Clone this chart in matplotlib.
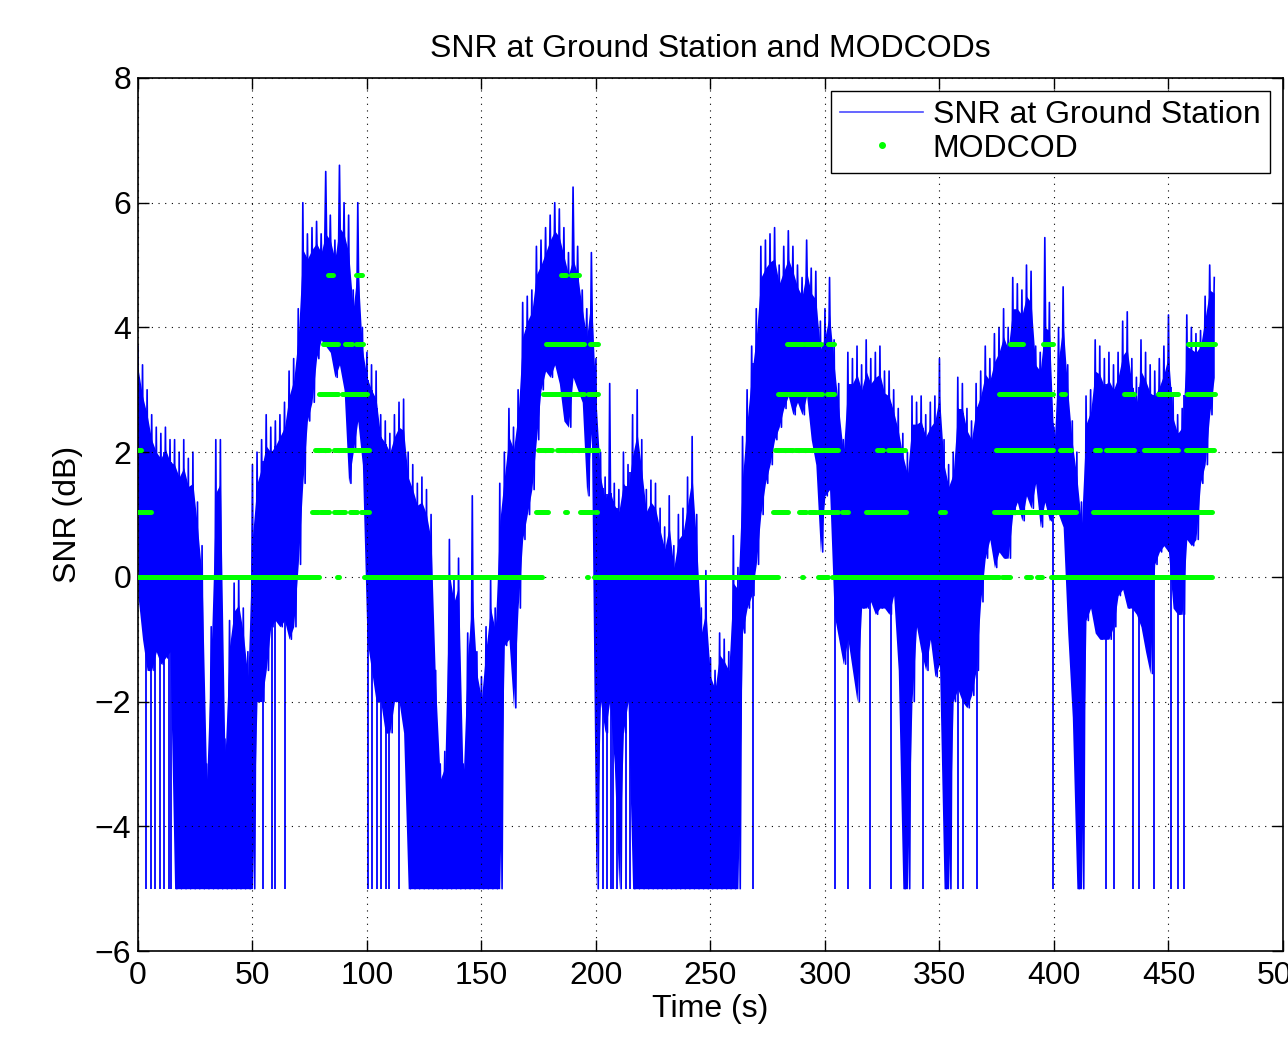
import matplotlib
matplotlib.use('Agg')
import numpy as np
import matplotlib.pyplot as plt
from matplotlib.lines import Line2D

plt.rcParams['font.family'] = ['Liberation Sans', 'DejaVu Sans']

# ---------------- data ----------------
# time bins (s)
t_bins = list(range(0, 472, 2))

# spike peaks of the SNR trace in each bin (dB)
snr_high = [
    3.7, 3.4, 3.0, 2.6, 2.4, 2.3, 2.4, 2.2, 2.2, 2.0,
    2.2, 1.9, 2.0, 1.2, 0.5, -3.0, -0.8, 2.2, 2.2, -2.6,
    -0.7, -0.1, 0.0, -0.5, -1.2, 1.8, 2.0, 2.2, 2.6, 2.4,
    2.5, 2.6, 2.8, 3.3, 3.5, 4.3, 6.0, 5.5, 5.6, 5.7,
    5.5, 6.5, 5.8, 5.4, 6.6, 6.0, 5.8, 4.6, 6.0, 4.0,
    3.6, 3.4, 3.3, 2.6, 2.5, 2.3, 2.6, 2.8, 2.85, 2.0,
    1.8, 1.5, 1.6, 1.4, 1.0, -1.5, -3.0, -2.8, 0.6, 0.0,
    0.3, -3.0, -0.9, 1.3, -1.2, -1.6, -0.8, 0.0, -0.5, 1.5,
    2.0, 2.7, 2.4, 3.0, 4.4, 4.5, 4.6, 5.3, 5.4, 5.6,
    5.8, 6.0, 5.9, 5.6, 5.2, 6.25, 5.3, 4.6, 4.3, 5.2,
    3.5, 2.0, 1.6, 3.1, 1.5, 1.4, 2.0, 1.8, 2.6, 3.0,
    2.2, 1.4, 1.55, 1.5, 1.1, 0.8, 1.3, 0.5, 1.0, 1.1,
    1.6, 2.25, 1.0, -0.5, 0.1, -1.3, -1.5, -0.9, -1.0, -1.2,
    0.66, 0.15, 2.25, 3.0, 3.7, 4.3, 5.3, 5.4, 5.5, 5.6,
    5.0, 5.3, 5.55, 5.3, 5.0, 4.8, 5.4, 4.95, 4.9, 4.1,
    4.3, 4.8, 3.8, 3.1, 2.2, 3.6, 3.5, 3.7, 3.4, 3.8,
    3.5, 3.6, 3.7, 3.3, 3.3, 3.0, 2.7, 2.3, 2.0, 2.9,
    2.8, 2.9, 2.6, 2.8, 2.9, 3.5, 2.2, 1.8, 2.0, 3.2,
    3.1, 2.7, 2.5, 3.1, 3.3, 3.7, 3.5, 3.9, 4.0, 4.3,
    4.0, 4.8, 4.7, 4.6, 5.0, 4.9, 3.7, 3.6, 5.44, 4.4,
    2.4, 4.0, 4.65, 3.4, 2.5, 2.0, 1.2, 2.9, 3.0, 3.8,
    3.7, 3.5, 3.6, 3.4, 3.6, 4.1, 4.25, 3.5, 3.2, 3.8,
    3.6, 3.4, 3.3, 3.5, 3.7, 4.2, 2.9, 2.6, 2.7, 4.2,
    4.0, 3.9, 3.95, 4.5, 5.0, 4.8,
]

# top of the dense (solid-looking) part of the trace in each bin (dB)
snr_core_top = [
    3.35, 2.9, 2.6, 2.2, 2.0, 1.9, 2.05, 1.85, 1.8, 1.6,
    1.75, 1.45, 1.5, 0.8, 0.0, -3.25, -1.15, 1.35, 1.5, -2.9,
    -1.1, -0.55, -0.45, -0.9, -1.6, 0.65, 1.5, 1.75, 2.1, 2.0,
    2.1, 2.25, 2.4, 2.9, 3.15, 3.85, 5.25, 5.1, 5.25, 5.35,
    5.2, 5.5, 5.4, 5.1, 5.6, 5.5, 5.2, 4.3, 5.0, 3.65,
    3.2, 3.0, 2.85, 2.25, 2.15, 2.0, 2.25, 2.4, 2.35, 1.6,
    1.4, 1.15, 1.2, 1.0, 0.6, -1.75, -3.25, -3.05, 0.05, -0.4,
    -0.15, -3.25, -1.25, -0.3, -1.55, -1.95, -1.15, -0.5, -0.85, 0.9,
    1.6, 2.25, 2.05, 2.6, 3.85, 4.1, 4.25, 4.85, 5.0, 5.2,
    5.4, 5.55, 5.45, 5.15, 4.85, 5.1, 4.85, 4.3, 3.85, 4.5,
    2.85, 1.6, 1.25, 1.4, 1.15, 1.05, 1.5, 1.4, 1.95, 2.3,
    1.7, 1.05, 1.2, 1.1, 0.75, 0.45, 0.8, 0.15, 0.6, 0.7,
    1.15, 1.6, 0.5, -0.9, -0.55, -1.6, -1.8, -1.25, -1.35, -1.5,
    -0.1, -0.2, 1.6, 2.5, 3.25, 3.85, 4.8, 4.95, 5.05, 5.1,
    4.7, 4.9, 5.1, 4.9, 4.65, 4.5, 4.9, 4.55, 4.45, 3.65,
    3.85, 4.2, 3.4, 2.7, 2.0, 3.1, 3.1, 3.25, 3.0, 3.3,
    3.1, 3.2, 3.25, 2.95, 2.9, 2.65, 2.35, 1.95, 1.65, 2.45,
    2.45, 2.5, 2.25, 2.4, 2.5, 2.9, 1.8, 1.45, 1.65, 2.7,
    2.7, 2.35, 2.2, 2.7, 2.9, 3.25, 3.15, 3.45, 3.6, 3.85,
    3.65, 4.3, 4.3, 4.2, 4.5, 4.4, 3.4, 3.3, 4.0, 3.95,
    2.1, 3.5, 4.05, 3.0, 2.15, 1.6, 0.85, 2.45, 2.65, 3.3,
    3.25, 3.05, 3.15, 3.0, 3.2, 3.55, 3.65, 3.1, 2.8, 3.3,
    3.15, 2.95, 2.9, 3.05, 3.25, 3.55, 2.55, 2.3, 2.4, 3.7,
    3.65, 3.6, 3.7, 4.15, 4.6, 4.55,
]

# lower edge of the dense part of the trace in each bin (dB)
snr_low = [
    -0.3, -1.0, -1.5, -1.5, -1.2, -1.4, -1.3, -1.2, -5, -5,
    -5, -5, -5, -5, -5, -5, -5, -5, -5, -5,
    -5, -5, -5, -5, -5, -5, -2.0, -2.0, -1.5, -0.8,
    -0.7, -0.8, -0.7, -1.0, -0.8, 0.2, 1.5, 2.5, 2.8, 3.5,
    3.8, 3.7, 3.6, 3.2, 3.4, 3.0, 1.5, 2.0, 2.5, 1.8,
    -1.0, -1.5, -2.0, -2.0, -2.5, -2.5, -2.0, -2.0, -2.5, -5,
    -5, -5, -5, -5, -5, -5, -5, -5, -5, -5,
    -5, -5, -5, -5, -5, -5, -5, -5, -5, -5,
    -1.1, -1.0, -2.1, -0.5, 0.6, 1.0, 1.4, 2.2, 3.0, 3.3,
    3.2, 3.4, 3.1, 2.5, 2.4, 3.2, 3.0, 2.8, 1.3, 2.3,
    -5, -2.0, -2.5, -2.0, -3.0, -5, -2.5, -2.0, -5, -5,
    -5, -5, -5, -5, -5, -5, -5, -5, -5, -5,
    -5, -5, -5, -5, -5, -5, -5, -5, -5, -5,
    -5, -5, -0.9, -0.5, -0.3, 0.2, 1.0, 1.5, 1.8, 2.2,
    2.4, 2.7, 2.9, 2.6, 2.8, 2.6, 2.9, 2.2, 1.8, 0.4,
    1.3, 1.4, -0.6, -1.0, -1.4, -1.0, -1.5, -2.0, -0.5, -0.5,
    -0.4, -0.6, -0.5, -0.5, -0.6, -0.3, -1.5, -5, -5, -2.0,
    -0.8, -1.2, -1.5, -1.0, -1.6, -1.4, -5, -5, -2.0, -1.8,
    -2.0, -2.1, -1.9, -1.5, -0.4, 0.3, 0.6, 0.15, 0.4, 0.3,
    0.3, 1.0, 1.2, 0.9, 1.3, 1.1, 1.5, 0.8, 1.2, 0.9,
    1.0, 1.0, 0.8, -0.9, -2.25, -5, -5, -0.7, -0.5, -0.9,
    -1.0, -1.0, -1.0, -0.8, -0.3, -0.2, -0.5, -0.5, -0.6, -0.8,
    -1.2, -1.55, 0.2, 0.4, 0.5, 0.4, -0.5, -0.6, -0.6, 0.6,
    0.5, 0.6, 1.5, 1.8, 2.6, 3.2,
]

# isolated drop-outs of the trace down to the floor (s)
dropout_times = [
    3.6, 5.8, 7.6, 9.5, 11.4, 13.5, 14.6, 54.6, 58.5, 60.0, 64.0,
    100.4, 102.0, 104.5, 106.0, 108.3, 109.5, 114.0,
    203.0, 205.0, 206.5, 207.5, 209.0, 213.0, 215.0,
    268.6, 304.6, 310.1, 319.6, 329.0, 342.9, 358.2, 360.4, 366.2,
    399.6, 422.9, 426.2, 434.5, 437.0, 443.5, 451.0, 454.0, 456.8,
]
snr_floor = -5.0

# MODCOD levels (dB) and the time spans (s) where each level is plotted
modcod_levels = [0.0, 1.04, 2.03, 2.93, 3.74, 4.84]
modcod_spans = [
    [(0, 79), (87, 87.6), (98.7, 176.3), (196, 196.6), (199, 279.6),
     (290, 290.6), (297, 301.5), (303, 375.8), (377.3, 381), (388, 389.8),
     (392.7, 394.8), (398.5, 469)],
    [(0, 5.8), (76, 78.5), (79.5, 83.3), (85.5, 90.6), (92.8, 95.5),
     (97.2, 101), (173.8, 179.2), (186.7, 187.3), (193.1, 198.2),
     (199.7, 200.3), (277.4, 284), (288.8, 291.7), (293, 296), (297, 305.8),
     (307.3, 310.2), (318, 335.4), (350.3, 352.5), (373.6, 409.8), (417, 469)],
    [(0, 1.5), (77.5, 83.6), (85.8, 101), (174.9, 180.7), (183, 190.2),
     (190.5, 200.7), (278, 286), (287, 299), (300, 305.5), (322.6, 325.2),
     (327.7, 335), (374.8, 399.6), (402.5, 407.3), (417.8, 420),
     (422.6, 435), (439.3, 454), (457.8, 470)],
    [(79, 87.3), (88.9, 100), (177, 194.6), (196.5, 200.7), (279.6, 290.5),
     (290.8, 298.5), (300.7, 304), (376.2, 399.6), (403, 404.7),
     (430.6, 435), (445.4, 454), (458.2, 470.4)],
    [(80.7, 87.3), (90.4, 93.6), (95, 98.2), (178.2, 194.6), (197.2, 200.7),
     (283.5, 290.5), (291.3, 298.3), (301.5, 304), (380.6, 386.5),
     (395.2, 399.6), (458.5, 470.4)],
    [(82.9, 85), (95.2, 97.8), (184.6, 187), (189.2, 192.4)],
]

x_ticks = [0, 50, 100, 150, 200, 250, 300, 350, 400, 450, 500]
y_ticks = [-6, -4, -2, 0, 2, 4, 6, 8]

BLUE = '#0000ff'
GREEN = '#00ff00'
FS = 23

# ---------------- SNR trace: spike peaks and lower readings alternate ----------------
tb = np.asarray(t_bins, dtype=float)
t_trace = np.empty(2 * len(tb))
v_trace = np.empty(2 * len(tb))
t_trace[0::2] = tb
t_trace[1::2] = tb + 1.0
v_trace[0::2] = snr_high
v_trace[1::2] = snr_low
t_trace = t_trace[:-1]
v_trace = v_trace[:-1]

fig = plt.figure(figsize=(12.88, 10.37), dpi=100)
ax = fig.add_axes([0.1071, 0.0829, 0.8890, 0.8419])

ax.fill_between(t_bins, snr_low, snr_core_top, color=BLUE, linewidth=0, zorder=2)
ax.plot(t_trace, v_trace, color=BLUE, linewidth=1.2, zorder=2)
d_top = np.interp(dropout_times, t_bins, snr_core_top)
ax.vlines(dropout_times, snr_floor, d_top, colors=BLUE, linewidth=1.3, zorder=2)

for lev, spans in zip(modcod_levels, modcod_spans):
    xs0 = [a for a, b in spans]
    xs1 = [b for a, b in spans]
    lc = ax.hlines([lev] * len(spans), xs0, xs1, colors=GREEN, linewidth=3.6, zorder=3)
    lc.set_capstyle('round')

ax.set_xlim(0, 500)
ax.set_ylim(-6, 8)
ax.set_xticks(x_ticks)
ax.set_yticks(y_ticks)
ax.tick_params(direction='in', length=8, width=1.0, top=True, right=True,
               labelsize=FS, colors='black')
ax.tick_params(axis='x', pad=7)
ax.tick_params(axis='y', pad=5)
for s in ax.spines.values():
    s.set_linewidth(1.2)
ax.grid(True, linestyle=(0, (1, 5)), linewidth=0.8, color='black')
ax.set_axisbelow(False)

ax.set_title('SNR at Ground Station and MODCODs', fontsize=FS, pad=15)
ax.set_xlabel('Time (s)', fontsize=FS, labelpad=2)
ax.set_ylabel('SNR (dB)', fontsize=FS, labelpad=8)

handles = [Line2D([], [], color='#4b4bff', linewidth=1.2),
           Line2D([], [], color=GREEN, marker='o', markersize=4, linestyle='none')]
leg = ax.legend(handles, ['SNR at Ground Station', 'MODCOD'], loc='upper right',
                fontsize=FS, frameon=True, fancybox=False, shadow=False,
                borderpad=0.3, labelspacing=0.1, handlelength=2.6,
                handletextpad=0.3, borderaxespad=0.4, framealpha=1)
leg.get_frame().set_edgecolor('black')
leg.get_frame().set_linewidth(1.0)

fig.savefig('out.png', dpi=100)
